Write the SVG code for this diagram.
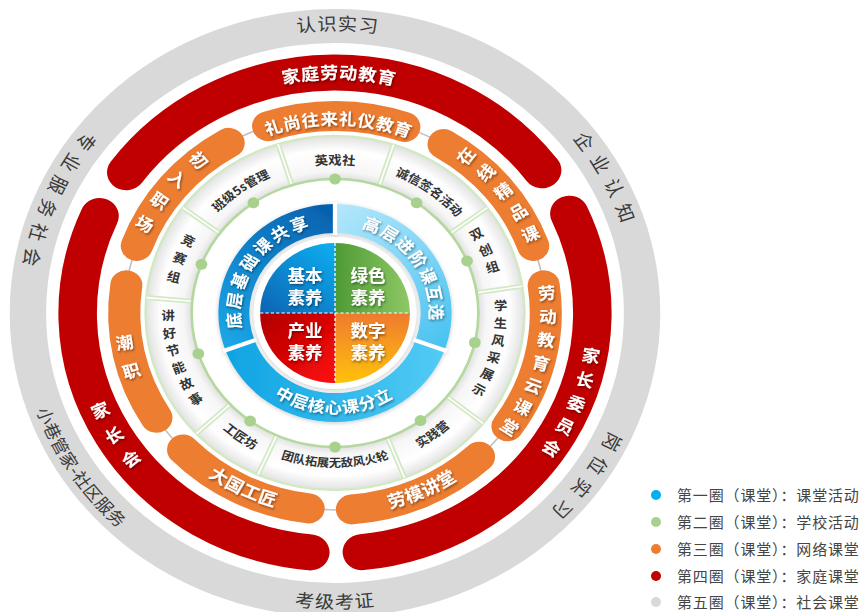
<svg xmlns="http://www.w3.org/2000/svg" width="863" height="612" viewBox="0 0 863 612">
<defs>
<style>
.cjk{font-family:"Noto Sans CJK SC","Noto Sans",sans-serif;}
.w{fill:#fff;font-weight:700;}
.gt{fill:#3a3a3a;font-weight:400;font-size:18px;}
.ct{fill:#333;font-weight:700;font-size:12.5px;}
.st{text-anchor:middle;dominant-baseline:central;}
.mid{text-anchor:middle;}
.leg{font-size:15px;fill:#454545;letter-spacing:0.85px;}
.red{fill:none;stroke:#c00000;stroke-width:36;stroke-linecap:round;}
.org{fill:none;stroke:#ed7d31;stroke-width:30;stroke-linecap:round;}
.sep{stroke:#d3e8c5;stroke-width:5;}
.sep2{stroke:#fff;stroke-width:1.6;}
.dot{fill:#a9d18e;}
</style>
<filter id="ts" x="-20%" y="-20%" width="140%" height="140%"><feDropShadow dx="1" dy="1.5" stdDeviation="0.8" flood-color="#000" flood-opacity="0.45"/></filter>
<filter id="sh" x="-20%" y="-20%" width="140%" height="140%"><feDropShadow dx="0" dy="1" stdDeviation="2" flood-color="#000" flood-opacity="0.22"/></filter>
<path id="cwG" d="M 0 282.5 A 282.5 282.5 0 1 1 0 -282.5 A 282.5 282.5 0 1 1 0 282.5"/>
<path id="ccwG" d="M 0 -295.5 A 295.5 295.5 0 1 0 0 295.5 A 295.5 295.5 0 1 0 0 -295.5"/>
<path id="cwR" d="M 0 234 A 234 234 0 1 1 0 -234 A 234 234 0 1 1 0 234"/>
<path id="cwO" d="M 0 188 A 188 188 0 1 1 0 -188 A 188 188 0 1 1 0 188"/>
<path id="ccwO" d="M 0 -202 A 202 202 0 1 0 0 202 A 202 202 0 1 0 0 -202"/>
<path id="cwC" d="M 0 148.5 A 148.5 148.5 0 1 1 0 -148.5 A 148.5 148.5 0 1 1 0 148.5"/>
<path id="ccwC" d="M 0 -156.5 A 156.5 156.5 0 1 0 0 156.5 A 156.5 156.5 0 1 0 0 -156.5"/>
<path id="ccwC2" d="M 0 -154 A 154 154 0 1 0 0 154 A 154 154 0 1 0 0 -154"/>
<path id="cwB" d="M 0 88.5 A 88.5 88.5 0 1 1 0 -88.5 A 88.5 88.5 0 1 1 0 88.5"/>
<path id="ccwB" d="M 0 -100.5 A 100.5 100.5 0 1 0 0 100.5 A 100.5 100.5 0 1 0 0 -100.5"/>
<radialGradient id="cellg" gradientUnits="userSpaceOnUse" cx="0" cy="0" r="177">
<stop offset="0.757" stop-color="#e0e0e0"/><stop offset="0.80" stop-color="#f6f6f6"/><stop offset="0.92" stop-color="#ffffff"/><stop offset="1" stop-color="#e2e2e2"/>
</radialGradient>
<linearGradient id="bUL" gradientUnits="userSpaceOnUse" x1="0" y1="-105" x2="-100" y2="30"><stop offset="0" stop-color="#0560ae"/><stop offset="1" stop-color="#1ba5e6"/></linearGradient>
<linearGradient id="bUR" gradientUnits="userSpaceOnUse" x1="0" y1="-105" x2="100" y2="30"><stop offset="0" stop-color="#b3e7fb"/><stop offset="1" stop-color="#4cc3f1"/></linearGradient>
<linearGradient id="bB" gradientUnits="userSpaceOnUse" x1="-100" y1="40" x2="100" y2="40"><stop offset="0" stop-color="#0fa4e3"/><stop offset="1" stop-color="#52cbf5"/></linearGradient>
<linearGradient id="qTL" gradientUnits="userSpaceOnUse" x1="-60" y1="10" x2="0" y2="-60"><stop offset="0" stop-color="#0d62b2"/><stop offset="1" stop-color="#10aaec"/></linearGradient>
<linearGradient id="qTR" gradientUnits="userSpaceOnUse" x1="0" y1="-20" x2="70" y2="-20"><stop offset="0" stop-color="#4e9a35"/><stop offset="1" stop-color="#8ec866"/></linearGradient>
<linearGradient id="qBL" gradientUnits="userSpaceOnUse" x1="-70" y1="0" x2="0" y2="70"><stop offset="0" stop-color="#b00000"/><stop offset="1" stop-color="#ff0a0a"/></linearGradient>
<linearGradient id="qBR" gradientUnits="userSpaceOnUse" x1="0" y1="0" x2="0" y2="70"><stop offset="0" stop-color="#ef7a30"/><stop offset="1" stop-color="#ffc20a"/></linearGradient>
</defs>
<rect width="863" height="612" fill="#fff"/>
<g class="cjk" transform="translate(335 313) scale(1.07 1)">
  <g id="ring5">
    <circle r="287" fill="none" stroke="#d9d9d9" stroke-width="34"/>
    <text class="gt mid" letter-spacing="1"><textPath href="#cwG" startOffset="50.14%">认识实习</textPath></text>
    <text class="gt mid" letter-spacing="8.5"><textPath href="#cwG" startOffset="67.36%">企业认知</textPath></text>
    <text class="gt mid" letter-spacing="8.5"><textPath href="#cwG" startOffset="84.83%">岗位实习</textPath></text>
    <text class="gt mid" letter-spacing="1"><textPath href="#ccwG" startOffset="50%">考级考证</textPath></text>
    <text class="gt mid" style="font-size:16.5px" letter-spacing="0.5"><textPath href="#ccwG" startOffset="34.17%">小巷管家-社区服务</textPath></text>
    <text class="gt mid" letter-spacing="8"><textPath href="#ccwG" startOffset="18.61%">专业服务社会</textPath></text>
  </g>
  <g id="ring4-top">
    <path class="red" d="M -195.07 -140.69 A 240.5 240.5 0 0 1 193.58 -142.71"/>
    <text class="w mid" filter="url(#ts)" style="font-size:17px" letter-spacing="0.5"><textPath href="#cwR" startOffset="50.25%">家庭劳动教育</textPath></text>
  </g>
  <g id="ring4-right">
    <path class="red" d="M 219.02 -99.35 A 240.5 240.5 0 0 1 25.13 239.18"/>
    <g class="w st" filter="url(#ts)" style="font-size:17px">
      <text transform="translate(239.4 41.8) rotate(9.9)">家</text>
      <text transform="translate(233.8 66.2) rotate(15.8)">长</text>
      <text transform="translate(225.8 89.8) rotate(21.7)">委</text>
      <text transform="translate(215.3 112.6) rotate(27.6)">员</text>
      <text transform="translate(202.6 134.1) rotate(33.5)">会</text>
    </g>
  </g>
  <g id="ring4-left">
    <path class="red" d="M -23.05 239.39 A 240.5 240.5 0 0 1 -220.06 -97.05"/>
    <g class="w st" filter="url(#ts)" style="font-size:17px">
      <text transform="translate(-219.6 96.8) rotate(-23.8)">家</text>
      <text transform="translate(-206.8 121.8) rotate(-30.5)">长</text>
      <text transform="translate(-191.2 145.1) rotate(-37.2)">会</text>
    </g>
  </g>
  <g id="connectors">
    <circle r="197" fill="none" stroke="#bfbfbf" stroke-width="1.5"/>
  </g>
  <g id="ring3-a">
    <path class="org" d="M -62.51 -186.82 A 197 197 0 0 1 64.79 -186.05"/>
    <text class="w mid" filter="url(#ts)" style="font-size:16.5px" letter-spacing="0.5"><textPath href="#cwO" startOffset="50.28%">礼尚往来礼仪教育</textPath></text>
  </g>
  <g id="ring3-b">
    <path class="org" d="M 101.46 -168.87 A 197 197 0 0 1 185.24 -67.06"/>
    <g class="w st" filter="url(#ts)" style="font-size:16.5px">
      <text transform="translate(121.4 -157.7) rotate(-52.4)">在</text>
      <text transform="translate(140.2 -141.2) rotate(-45.2)">线</text>
      <text transform="translate(156.6 -122.8) rotate(-38.1)">精</text>
      <text transform="translate(170.8 -102.2) rotate(-30.9)">品</text>
      <text transform="translate(182.2 -80.0) rotate(-23.7)">课</text>
    </g>
  </g>
  <g id="ring3-c">
    <path class="org" d="M 195.03 -27.76 A 197 197 0 0 1 161.17 113.28"/>
    <g class="w st" filter="url(#ts)" style="font-size:16.5px">
      <text transform="translate(197.9 -21.0) rotate(-6)">劳</text>
      <text transform="translate(199.0 2.5) rotate(0.7)">动</text>
      <text transform="translate(197.3 26.0) rotate(7.5)">教</text>
      <text transform="translate(192.8 49.2) rotate(14.3)">育</text>
      <text transform="translate(185.7 71.6) rotate(21.1)">云</text>
      <text transform="translate(175.9 93.1) rotate(27.9)">课</text>
      <text transform="translate(163.7 113.2) rotate(34.6)">堂</text>
    </g>
  </g>
  <g id="ring3-d">
    <path class="org" d="M 134.61 143.85 A 197 197 0 0 1 15.80 196.37"/>
    <text class="w mid" filter="url(#ts)" style="font-size:17px" letter-spacing="0.5"><textPath href="#ccwO" startOffset="56.86%">劳模讲堂</textPath></text>
  </g>
  <g id="ring3-e">
    <path class="org" d="M -24.68 195.45 A 197 197 0 0 1 -141.96 136.60"/>
    <text class="w mid" filter="url(#ts)" style="font-size:17px" letter-spacing="0.5"><textPath href="#ccwO" startOffset="42.75%">大国工匠</textPath></text>
  </g>
  <g id="ring3-f">
    <path class="org" d="M -166.88 104.69 A 197 197 0 0 1 -195.03 -27.76"/>
    <g class="w st" filter="url(#ts)" style="font-size:16.5px">
      <text transform="translate(-196.9 28.7) rotate(-8.3)">潮</text>
      <text transform="translate(-190.7 56.9) rotate(-16.6)">职</text>
    </g>
  </g>
  <g id="ring3-g">
    <path class="org" d="M -185.24 -67.06 A 197 197 0 0 1 -99.39 -170.09"/>
    <g class="w st" filter="url(#ts)" style="font-size:16.5px">
      <text transform="translate(-126.6 -153.5) rotate(50.5)">初</text>
      <text transform="translate(-146.5 -134.7) rotate(42.6)">入</text>
      <text transform="translate(-163.6 -113.3) rotate(34.7)">职</text>
      <text transform="translate(-177.5 -90.0) rotate(26.9)">场</text>
    </g>
  </g>
  <g id="ring2">
    <circle r="155.5" fill="none" stroke="url(#cellg)" stroke-width="43"/>
    <circle r="177" fill="none" stroke="#d3e8c5" stroke-width="2.5"/>
    <g>
      <line class="sep" x1="-40.3" y1="-127.8" x2="-53.2" y2="-168.8"/><line class="sep2" x1="-40.3" y1="-127.8" x2="-53.2" y2="-168.8"/>
      <line class="sep" x1="41.4" y1="-127.4" x2="54.7" y2="-168.3"/><line class="sep2" x1="41.4" y1="-127.4" x2="54.7" y2="-168.3"/>
      <line class="sep" x1="107.7" y1="-79.7" x2="142.3" y2="-105.3"/><line class="sep2" x1="107.7" y1="-79.7" x2="142.3" y2="-105.3"/>
      <line class="sep" x1="132.5" y1="-20.3" x2="175.0" y2="-26.8"/><line class="sep2" x1="132.5" y1="-20.3" x2="175.0" y2="-26.8"/>
      <line class="sep" x1="104.7" y1="83.6" x2="138.3" y2="110.4"/><line class="sep2" x1="104.7" y1="83.6" x2="138.3" y2="110.4"/>
      <line class="sep" x1="49.1" y1="124.7" x2="64.9" y2="164.7"/><line class="sep2" x1="49.1" y1="124.7" x2="64.9" y2="164.7"/>
      <line class="sep" x1="-54.5" y1="122.4" x2="-72.0" y2="161.7"/><line class="sep2" x1="-54.5" y1="122.4" x2="-72.0" y2="161.7"/>
      <line class="sep" x1="-98.0" y1="91.4" x2="-129.5" y2="120.7"/><line class="sep2" x1="-98.0" y1="91.4" x2="-129.5" y2="120.7"/>
      <line class="sep" x1="-133.5" y1="-11.7" x2="-176.3" y2="-15.4"/><line class="sep2" x1="-133.5" y1="-11.7" x2="-176.3" y2="-15.4"/>
      <line class="sep" x1="-107.7" y1="-79.7" x2="-142.3" y2="-105.3"/><line class="sep2" x1="-107.7" y1="-79.7" x2="-142.3" y2="-105.3"/>
    </g>
    <circle r="134" fill="none" stroke="#b5d89f" stroke-width="2.5"/>
    <g>
      <circle class="dot" cx="0" cy="-134" r="5.5"/>
      <circle class="dot" cx="76.3" cy="-110.2" r="5.5"/>
      <circle class="dot" cx="123.4" cy="-52.1" r="5.5"/>
      <circle class="dot" cx="130.7" cy="29.5" r="5.5"/>
      <circle class="dot" cx="79.9" cy="107.6" r="5.5"/>
      <circle class="dot" cx="0" cy="134" r="5.5"/>
      <circle class="dot" cx="-79.3" cy="108.0" r="5.5"/>
      <circle class="dot" cx="-127.7" cy="40.7" r="5.5"/>
      <circle class="dot" cx="-124.8" cy="-48.7" r="5.5"/>
      <circle class="dot" cx="-76.3" cy="-110.2" r="5.5"/>
    </g>
    <text class="ct mid"><textPath href="#cwC" startOffset="50%">英戏社</textPath></text>
    <text class="ct mid" style="font-size:12px"><textPath href="#cwC" startOffset="40.08%">班级5s管理</textPath></text>
    <text class="ct mid" style="font-size:12px"><textPath href="#cwC" startOffset="60%">诚信签名活动</textPath></text>
    <text class="ct mid" style="font-size:12px"><textPath href="#ccwC" startOffset="40.11%">工匠坊</textPath></text>
    <text class="ct mid" style="font-size:11.5px"><textPath href="#ccwC2" startOffset="50%">团队拓展无敌风火轮</textPath></text>
    <text class="ct mid" style="font-size:12px"><textPath href="#ccwC" startOffset="60.25%">实践营</textPath></text>
    <g class="ct st">
      <text transform="translate(-136.9 -72.8) rotate(28)">竞</text>
      <text transform="translate(-144.8 -55.2) rotate(20.9)">赛</text>
      <text transform="translate(-150.6 -36.7) rotate(13.7)">组</text>
      <text transform="translate(-156.0 1.9) rotate(-0.7)">讲</text>
      <text transform="translate(-154.8 19.6) rotate(-7.2)">好</text>
      <text transform="translate(-151.6 36.9) rotate(-13.7)">节</text>
      <text transform="translate(-146.3 54.1) rotate(-20.3)">能</text>
      <text transform="translate(-139.2 70.3) rotate(-26.8)">故</text>
      <text transform="translate(-130.4 85.6) rotate(-33.3)">事</text>
      <text transform="translate(154.8 -8.1) rotate(-3)">学</text>
      <text transform="translate(154.7 9.5) rotate(3.5)">生</text>
      <text transform="translate(152.6 26.9) rotate(10)">风</text>
      <text transform="translate(148.6 44.0) rotate(16.5)">采</text>
      <text transform="translate(142.7 60.6) rotate(23)">展</text>
      <text transform="translate(134.9 76.3) rotate(29.5)">示</text>
      <text transform="translate(131.9 -79.5) rotate(-31.1)">双</text>
      <text transform="translate(140.3 -63.5) rotate(-24.4)">创</text>
      <text transform="translate(146.8 -46.6) rotate(-17.6)">组</text>
    </g>
  </g>
  <g id="ring1" filter="url(#sh)">
    <path d="M -102.4 37.3 A 109 109 0 0 1 0 -109 L 0 -80 A 80 80 0 0 0 -75.2 27.4 Z" fill="url(#bUL)"/>
    <path d="M 0 -109 A 109 109 0 0 1 102.4 37.3 L 75.2 27.4 A 80 80 0 0 0 0 -80 Z" fill="url(#bUR)"/>
    <path d="M 102.4 37.3 A 109 109 0 0 1 -102.4 37.3 L -75.2 27.4 A 80 80 0 0 0 75.2 27.4 Z" fill="url(#bB)"/>
    <g stroke="#fff" stroke-width="4">
      <line x1="0" y1="-78" x2="0" y2="-111"/>
      <line x1="73.3" y1="26.7" x2="104.3" y2="38.0"/>
      <line x1="-73.3" y1="26.7" x2="-104.3" y2="38.0"/>
    </g>
  </g>
  <g id="ring1-labels" class="w mid" filter="url(#ts)">
    <text style="font-size:16.5px" letter-spacing="2.5"><textPath href="#cwB" startOffset="34.17%">底层基础课共享</textPath></text>
    <text style="font-size:16px" letter-spacing="1.5"><textPath href="#cwB" startOffset="65.51%">高层进阶课互选</textPath></text>
    <text style="font-size:16px" letter-spacing="1"><textPath href="#ccwB" startOffset="49.83%">中层核心课分立</textPath></text>
  </g>
  <g id="core" filter="url(#sh)">
    <circle r="76" fill="#fff"/>
    <path d="M 0 0 L -70 0 A 70 70 0 0 1 0 -70 Z" fill="url(#qTL)"/>
    <path d="M 0 0 L 0 -70 A 70 70 0 0 1 70 0 Z" fill="url(#qTR)"/>
    <path d="M 0 0 L 0 70 A 70 70 0 0 1 -70 0 Z" fill="url(#qBL)"/>
    <path d="M 0 0 L 70 0 A 70 70 0 0 1 0 70 Z" fill="url(#qBR)"/>
    <path d="M -70 0 H 70 M 0 -70 V 70" stroke="#fff" stroke-width="1.2" stroke-dasharray="3 2" fill="none"/>
  </g>
</g>
<g id="core-labels" class="cjk w mid" filter="url(#ts)" style="font-size:17.5px">
  <text x="305" y="282">基本</text><text x="305" y="303.5">素养</text>
  <text x="368" y="282">绿色</text><text x="368" y="303.5">素养</text>
  <text x="305" y="337">产业</text><text x="305" y="358.5">素养</text>
  <text x="368" y="337">数字</text><text x="368" y="358.5">素养</text>
</g>
<g id="legend" class="cjk leg">
  <circle cx="656" cy="495" r="5" fill="#00b0f0"/><text x="677" y="500.5">第一圈（课堂）：课堂活动</text>
  <circle cx="656" cy="522" r="5" fill="#a9d18e"/><text x="677" y="527.5">第二圈（课堂）：学校活动</text>
  <circle cx="656" cy="549" r="5" fill="#ed7d31"/><text x="677" y="554.5">第三圈（课堂）：网络课堂</text>
  <circle cx="656" cy="576" r="5" fill="#c00000"/><text x="677" y="581.5">第四圈（课堂）：家庭课堂</text>
  <circle cx="656" cy="602" r="5" fill="#d9d9d9"/><text x="677" y="607.5">第五圈（课堂）：社会课堂</text>
</g>
</svg>
